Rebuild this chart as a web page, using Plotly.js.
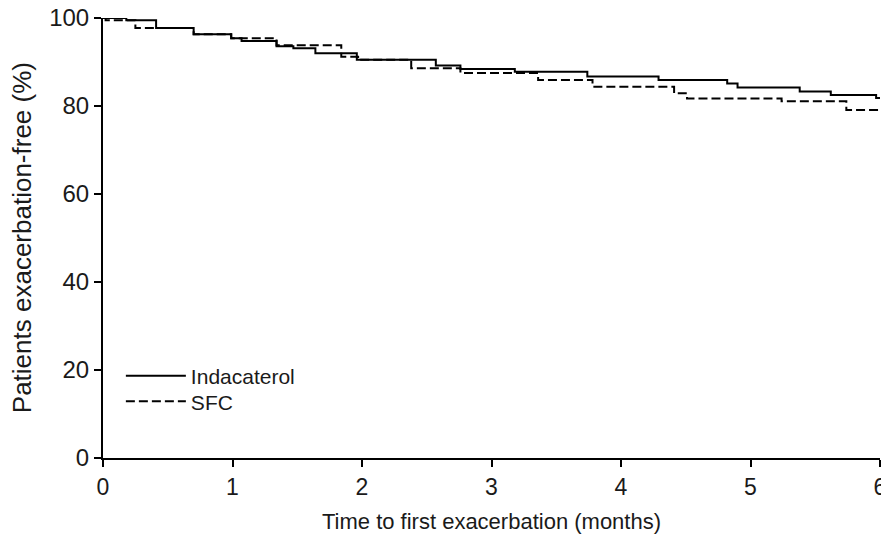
<!DOCTYPE html>
<html>
<head>
<meta charset="utf-8">
<script src="https://cdn.plot.ly/plotly-3.0.1.min.js"></script>
<style>html,body{margin:0;padding:0;background:#fff;}#chart{width:881px;height:534px;}</style>
</head>
<body>
<div id="chart"></div>
<script>
// Kaplan-Meier steps (months, % exacerbation-free)
var indTime = [0, 0.18, 0.41, 0.70, 0.99, 1.07, 1.34, 1.47, 1.64, 1.96, 2.57, 2.76, 3.18, 3.74, 4.29, 4.82, 4.90, 5.38, 5.62, 5.97, 6.0];
var indSurv = [100, 99.5, 97.7, 96.3, 95.4, 94.8, 93.6, 93.1, 92.0, 90.5, 89.2, 88.4, 87.8, 86.7, 85.9, 85.1, 84.2, 83.3, 82.5, 81.8, 81.8];
var sfcTime = [0, 0.02, 0.25, 0.70, 0.99, 1.34, 1.84, 1.97, 2.38, 2.76, 3.36, 3.78, 4.41, 4.51, 5.24, 5.74, 6.0];
var sfcSurv = [100, 99.5, 97.7, 96.3, 95.4, 93.8, 91.2, 90.5, 88.6, 87.5, 85.9, 84.4, 82.9, 81.7, 81.1, 79.1, 79.1];
var seriesNames = ['Indacaterol', 'SFC'];
var xTicks = [0, 1, 2, 3, 4, 5, 6];
var yTicks = [0, 20, 40, 60, 80, 100];
var xTitle = 'Time to first exacerbation (months)';
var yTitle = 'Patients exacerbation-free (%)';

var fontFam = 'Liberation Sans, Arial, Helvetica, sans-serif';
var txtCol = '#1a1a1a';
var traces = [
  {x: indTime, y: indSurv, name: seriesNames[0], mode: 'lines', legend: 'legend',
   line: {shape: 'hv', color: '#000', width: 2}},
  {x: sfcTime, y: sfcSurv, name: seriesNames[1], mode: 'lines', legend: 'legend2',
   line: {shape: 'hv', color: '#000', width: 2, dash: '9px,4px'}}
];
var legendCommon = {xanchor: 'left', yanchor: 'middle', bgcolor: 'rgba(0,0,0,0)',
  font: {size: 21, color: txtCol, family: fontFam}, itemwidth: 60};
var layout = {
  width: 881, height: 534,
  margin: {l: 103, r: 1, t: 18, b: 76},
  paper_bgcolor: '#fff', plot_bgcolor: '#fff',
  font: {family: fontFam, size: 22, color: txtCol},
  xaxis: {
    range: [0, 6], tickvals: xTicks, ticktext: xTicks.map(String),
    showgrid: false, zeroline: false, showline: true, linecolor: '#000', linewidth: 2,
    ticks: 'outside', ticklen: 7, tickwidth: 2, tickcolor: '#000',
    ticklabeloverflow: 'allow', tickfont: {size: 23},
    title: {text: xTitle, font: {size: 22, color: txtCol}, standoff: 16},
    fixedrange: true
  },
  yaxis: {
    range: [0, 100], tickvals: yTicks, ticktext: yTicks.map(String),
    showgrid: false, zeroline: false, showline: true, linecolor: '#000', linewidth: 2,
    ticks: 'outside', ticklen: 7, tickwidth: 2, tickcolor: '#000', tickfont: {size: 24},
    fixedrange: true
  },
  annotations: [{
    text: yTitle, textangle: -90, xref: 'paper', yref: 'paper',
    x: -0.104, y: 0.5, xanchor: 'center', yanchor: 'middle', showarrow: false,
    font: {size: 26, color: txtCol, family: fontFam}
  }],
  showlegend: true,
  legend: Object.assign({x: 0.023, y: 0.186}, legendCommon),
  legend2: Object.assign({x: 0.023, y: 0.128}, legendCommon)
};
Plotly.newPlot('chart', traces, layout, {displayModeBar: false, staticPlot: true});
</script>
</body>
</html>
